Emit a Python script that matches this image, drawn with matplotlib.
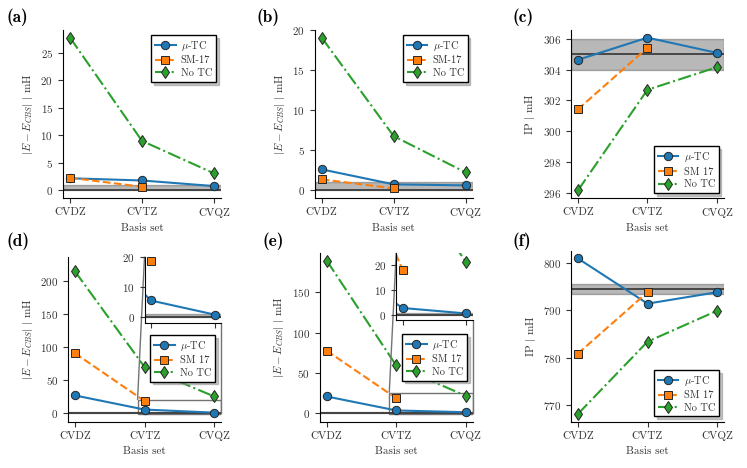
import numpy as np
import matplotlib
matplotlib.use('Agg')
import matplotlib.pyplot as plt
from mpl_toolkits.axes_grid1.inset_locator import mark_inset

plt.rcParams['font.family'] = 'serif'
plt.rcParams['font.serif'] = ['cmr10', 'DejaVu Serif']
plt.rcParams['mathtext.fontset'] = 'cm'
plt.rcParams['axes.formatter.use_mathtext'] = True
plt.rcParams['font.size'] = 8
plt.rcParams['text.color'] = '0.2'
plt.rcParams['axes.labelcolor'] = '0.2'
plt.rcParams['xtick.color'] = '0.2'
plt.rcParams['ytick.color'] = '0.2'

basis = ['CVDZ', 'CVTZ', 'CVQZ']

# (a)
a_mu = [2.2, 1.8, 0.78]
a_sm = [2.3, 0.65]
a_no = [27.8, 9.0, 3.1]
# (b)
b_mu = [2.62, 0.75, 0.62]
b_sm = [1.37, 0.25]
b_no = [19.07, 6.77, 2.24]
# (c)
c_mu = [304.64, 306.08, 305.09]
c_sm = [301.42, 305.42]
c_no = [296.15, 302.69, 304.16]
c_ref = 305.0
# (d)
d_mu = [26.8, 5.4, 0.7]
d_sm = [90.7, 18.4]
d_no = [214.8, 69.9, 25.3]
# (e)
e_mu = [20.4, 3.0, 0.8]
e_sm = [77.3, 18.3]
e_no = [189.5, 59.0, 21.2]
# (f)
f_mu = [800.9, 791.4, 793.8]
f_sm = [780.9, 793.8]
f_no = [768.2, 783.4, 789.9]
f_ref = 794.5

tol = 1.0
err_label = r'$|E - E_{CBS}|$ $|$ mH'
ip_label = r'IP $|$ mH'

W, H = 747, 468
fig = plt.figure(figsize=(W / 100, H / 100), dpi=100)


def add_ax(left, right, top, bottom):
    return fig.add_axes([left / W, 1 - bottom / H, (right - left) / W, (bottom - top) / H])


def draw_series(ax, mu, sm, no):
    x = np.arange(len(basis))
    l1, = ax.plot(x[:len(mu)], mu, '-', color='tab:blue', marker='o', ms=6,
                  mec='0.15', mew=0.7, lw=1.5)
    l2, = ax.plot(x[:len(sm)], sm, '--', color='tab:orange', marker='s', ms=6,
                  mec='0.15', mew=0.7, lw=1.5)
    l3, = ax.plot(x[:len(no)], no, '-.', color='tab:green', marker='d', ms=6.5,
                  mec='0.15', mew=0.7, lw=1.5)
    return [l1, l2, l3]


def style(ax):
    for s in ['top', 'right']:
        ax.spines[s].set_visible(False)
    ax.tick_params(direction='out', length=3.5, width=0.8, labelsize=8)


def panel(ax, mu, sm, no, ref, band, names, ylabel, loc, anchor=None):
    ax.axhspan(band[0], band[1], color='k', alpha=0.28, lw=1)
    ax.axhline(ref, color='0.2', lw=1.2, zorder=1.5)
    lines = draw_series(ax, mu, sm, no)
    style(ax)
    ax.set_xticks(np.arange(len(basis)), basis)
    ax.set_xlabel('Basis set')
    ax.set_ylabel(ylabel)
    kw = dict(loc=loc, fontsize=7.5, frameon=True, fancybox=False,
              shadow={'color': '0.55'}, framealpha=1, edgecolor='k',
              labelspacing=0.3, borderpad=0.35, handletextpad=0.5)
    if anchor is not None:
        kw['bbox_to_anchor'] = anchor
        kw['borderaxespad'] = 0
    leg = ax.legend(lines, names, **kw)
    leg.get_frame().set_linewidth(1.0)
    return ax


def inset(ax, mu, sm, no, ylim, yticks):
    axins = ax.inset_axes([0.5, 0.6, 0.5, 0.4])
    axins.axhspan(0, tol, color='k', alpha=0.28, lw=1)
    axins.axhline(0, color='0.2', lw=1.2, zorder=1.5)
    draw_series(axins, mu, sm, no)
    style(axins)
    axins.set_xlim(0.9, 2.1)
    axins.set_ylim(*ylim)
    axins.set_xticks([1, 2], ['', ''])
    axins.set_yticks(yticks)
    mark_inset(ax, axins, loc1=2, loc2=4, fc='none', ec='0.45', lw=1)


names1 = [r'$\mu$-TC', 'SM-17', 'No TC']
names2 = [r'$\mu$-TC', 'SM 17', 'No TC']

ax_a = add_ax(62.8, 221.2, 30, 198)
panel(ax_a, a_mu, a_sm, a_no, 0, (0, tol), names1, err_label, 'upper right')

ax_b = add_ax(314.5, 472.9, 30, 198)
panel(ax_b, b_mu, b_sm, b_no, 0, (0, tol), names1, err_label, 'upper right')

ax_c = add_ax(571, 723.9, 30, 198)
panel(ax_c, c_mu, c_sm, c_no, c_ref, (c_ref - tol, c_ref + tol), names2, ip_label,
      'lower right')

ax_d = add_ax(68, 221, 256.7, 421.7)
panel(ax_d, d_mu, d_sm, d_no, 0, (0, tol), names2, err_label, 'upper right',
      anchor=(0.96, 0.525))
ax_d.set_ylim(-13, 237)
inset(ax_d, d_mu, d_sm, d_no, (-2, 20), [0, 10, 20])

ax_e = add_ax(319.8, 472.6, 253, 421.7)
panel(ax_e, e_mu, e_sm, e_no, 0, (0, tol), names2, err_label, 'upper right',
      anchor=(0.965, 0.52))
ax_e.set_ylim(-11, 199)
inset(ax_e, e_mu, e_sm, e_no, (-2, 25), [0, 10, 20])

ax_f = add_ax(571, 724, 250.7, 421.7)
panel(ax_f, f_mu, f_sm, f_no, f_ref, (f_ref - tol, f_ref + tol), names2, ip_label,
      'lower right')

labels = ['(a)', '(b)', '(c)', '(d)', '(e)', '(f)']
label_pos = [(7, 17), (257, 17), (513, 17), (7, 241), (262, 241), (513, 241)]
for lab, (px, py) in zip(labels, label_pos):
    fig.text(px / W, 1 - py / H, lab, family='cmb10', fontsize=12.5,
             color='k', ha='left', va='center')

fig.savefig('out.png', dpi=100)
